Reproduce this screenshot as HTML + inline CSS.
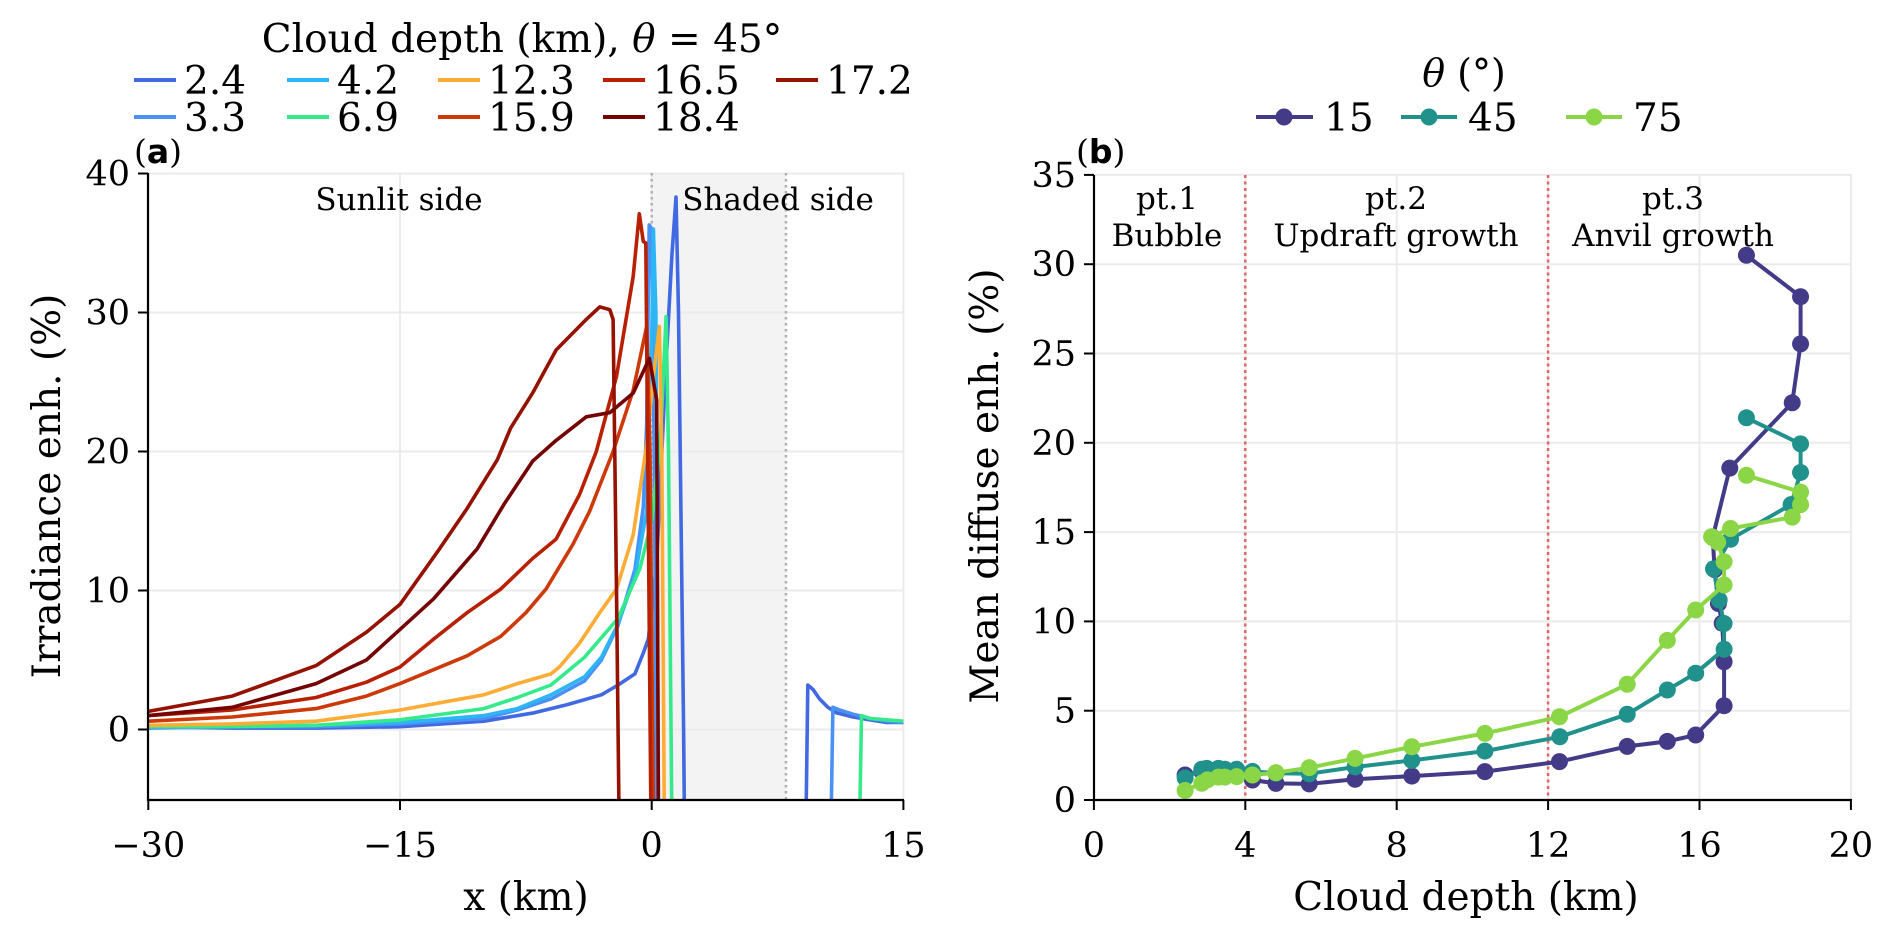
<!DOCTYPE html>
<html><head><meta charset="utf-8"><style>
html,body{margin:0;padding:0;background:#fff;}
svg{display:block;font-family:"DejaVu Serif","Liberation Serif",serif;}
</style></head><body>
<svg id="fig" width="1892" height="938" viewBox="0 0 1892 938" xmlns="http://www.w3.org/2000/svg">
<defs>
<clipPath id="clipA"><rect x="148" y="173" width="756" height="627"/></clipPath>
<clipPath id="clipB"><rect x="1094" y="160" width="770" height="640"/></clipPath>
</defs>
<g id="panelA"></g>
<g id="panelB"></g>
</svg>
<script>
// ---------- Panel (a) data ----------
const depthLabels = ["2.4","3.3","4.2","6.9","12.3","15.9","16.5","17.2","18.4"];
const depthColors = ["#4169e1","#4a90f5","#2db6f5","#35ea8a","#fdac36","#cc3a0a","#b82003","#961200","#740404"];
const x24 = [-30,-25,-20,-15,-10,-7,-5,-3,-2,-1,-0.5,-0.2,0.3,0.8,1.2,1.45,1.6,1.9,1.95,9.2,9.3,9.6,10,10.5,11,12,13,14,15];
const y24 = [0.2,0.1,0.1,0.2,0.6,1.2,1.8,2.5,3.2,4,5.5,6.5,12,25,34,38.3,30,0,-6,-6,3.2,2.9,2.2,1.6,1.2,0.9,0.7,0.5,0.5];
const x33 = [-30,-25,-20,-15,-10,-8,-6,-4,-3,-2,-1,-0.5,-0.3,-0.15,0,0.15,0.3,10.7,10.8,11.2,12,13,14,15];
const y33 = [0.1,0.2,0.2,0.4,0.8,1.4,2.2,3.5,5,7.5,11.5,16,22,36.3,36,20,-6,-6,1.6,1.4,1.1,0.8,0.6,0.5];
const x42 = [-30,-25,-20,-15,-10,-8,-6,-4,-3,-2,-1,-0.3,0,0.1,0.25,0.4];
const y42 = [0.2,0.2,0.3,0.5,1,1.5,2.5,3.8,5.2,7.6,11,15.7,28,36,30,-6];
const x69 = [-30,-25,-20,-15,-10,-8,-6,-4,-2,-0.7,0,0.5,0.86,1.0,1.2,12.4,12.5,13,14,15];
const y69 = [0.2,0.2,0.3,0.7,1.5,2.3,3.2,5.2,8,11.6,15,20.5,29.7,20,-6,-6,1.0,0.8,0.7,0.6];
const x123 = [-30,-25,-20,-15,-10,-8,-6,-5.5,-4.3,-3.1,-2.1,-1.1,-0.3,0.1,0.46,0.6,0.75];
const y123 = [0.3,0.4,0.6,1.4,2.5,3.3,4,4.5,6.2,8.4,10.1,14,20.5,25.4,29,20,-6];
const x159 = [-30,-25,-20,-17,-15,-13,-11,-9,-7.5,-6.3,-4.7,-3.7,-2.3,-1.1,-0.3,-0.1,0.1];
const y159 = [0.6,0.9,1.5,2.4,3.3,4.3,5.3,6.7,8.4,10.1,13.3,15.7,20,24.4,29,20,-6];
const x165 = [-30,-25,-20,-17,-15,-13,-11,-9,-7.1,-5.7,-4.3,-3.3,-2.1,-1.1,-0.74,-0.5,-0.35,-0.2,-0.05];
const y165 = [1.0,1.4,2.3,3.4,4.5,6.5,8.4,10.1,12.3,13.7,16.9,20,25.4,32.6,37.1,35.1,35,15,-6];
const x172 = [-30,-25,-20,-17,-15,-12.7,-11,-9.2,-8.4,-7.1,-5.7,-3.9,-3.1,-2.5,-2.3,-2.1,-1.95];
const y172 = [1.3,2.4,4.6,7.0,9,12.9,15.9,19.4,21.7,24.2,27.3,29.5,30.4,30.2,29.5,10,-6];
const x184 = [-30,-25,-20,-17,-15,-13,-10.4,-8.8,-7.1,-5.7,-3.9,-2.5,-1.1,-0.14,0.3,0.4];
const y184 = [1.0,1.6,3.3,5,7.2,9.4,13,16.2,19.3,20.8,22.5,22.8,24.2,26.7,23.7,-6];
const xTicksA = [-30,-15,0,15];
const yTicksA = [0,10,20,30,40];

// ---------- Panel (b) data ----------
const thetaLabels = ["15","45","75"];
const thetaColors = ["#433a88","#21918c","#8bd646"];
const d15 = [2.41,2.85,2.98,3.29,3.46,3.77,4.19,4.81,5.69,6.9,8.4,10.33,12.3,14.09,15.15,15.9,16.65,16.65,16.6,16.5,16.4,16.35,16.8,18.45,18.67,18.67,17.24];
const e15 = [1.40,1.6,1.62,1.6,1.55,1.5,1.12,0.93,0.9,1.16,1.34,1.59,2.15,3.0,3.28,3.64,5.28,7.74,9.9,11.0,12.9,14.7,18.58,22.24,25.54,28.18,30.5];
const d45 = [2.41,2.85,2.98,3.29,3.46,3.77,4.19,4.81,5.69,6.9,8.4,10.33,12.31,14.09,15.15,15.9,16.65,16.65,16.52,16.37,16.82,18.42,18.67,18.67,17.24];
const e45 = [1.24,1.72,1.77,1.77,1.72,1.72,1.6,1.5,1.47,1.85,2.22,2.74,3.54,4.8,6.16,7.1,8.44,9.88,11.2,12.94,14.6,16.54,18.34,19.94,21.4];
const d75 = [2.41,2.85,3.0,3.29,3.46,3.77,4.19,4.81,5.69,6.9,8.4,10.33,12.3,14.09,15.15,15.9,16.65,16.65,16.48,16.32,16.82,18.45,18.67,18.67,17.24];
const e75 = [0.53,0.94,1.13,1.28,1.28,1.31,1.4,1.53,1.81,2.33,2.98,3.73,4.66,6.48,8.94,10.64,12.04,13.34,14.44,14.74,15.2,15.84,16.54,17.24,18.18];
const xTicksB = [0,4,8,12,16,20];
const yTicksB = [0,5,10,15,20,25,30,35];
const phaseBounds = [4,12];

const NS = "http://www.w3.org/2000/svg";
function mk(parent, tag, attrs, text){
  const el = document.createElementNS(NS, tag);
  for (const k in attrs) el.setAttribute(k, attrs[k]);
  if (text !== undefined) el.textContent = text;
  parent.appendChild(el);
  return el;
}
const xA = v => 651.7 + v*16.78;
const yA = v => 729.5 - v*13.9;
const xB = v => 1093.9 + v*37.85;
const yB = v => 800 - v*17.86;

const svg = document.getElementById('fig');
const gA = document.getElementById('panelA');
const gB = document.getElementById('panelB');

// ===== Panel A =====
let sh = mk(gA,'rect',{x:xA(0),y:173,width:xA(8)-xA(0),height:627,fill:'#f3f3f3'});


xTicksA.forEach(t=>{
  const l = mk(gA,'line',{x1:xA(t),x2:xA(t),y1:173,y2:800,stroke:'#ebebeb','stroke-width':2});
  
  
});
yTicksA.forEach(t=>{
  const l = mk(gA,'line',{x1:148,x2:904,y1:yA(t),y2:yA(t),stroke:'#ebebeb','stroke-width':2});
  
  
});
[0,8].forEach(v=>{
  const l = mk(gA,'line',{x1:xA(v),x2:xA(v),y1:173,y2:800,stroke:'#b0b0b0','stroke-width':2.5,'stroke-dasharray':'2.5,3.5'});
  
  
});
const seriesA = [[x24,y24],[x33,y33],[x42,y42],[x69,y69],[x123,y123],[x159,y159],[x165,y165],[x172,y172],[x184,y184]];
const linesA = mk(gA,'g',{'clip-path':'url(#clipA)'});
seriesA.forEach((s,i)=>{
  const pts = s[0].map((x,j)=>xA(x).toFixed(1)+','+yA(s[1][j]).toFixed(1)).join(' ');
  const p = mk(linesA,'polyline',{points:pts,fill:'none',stroke:depthColors[i],'stroke-width':3.6,'stroke-linejoin':'round'});
  
  
});
let ax = mk(gA,'line',{x1:148,x2:148,y1:173,y2:801,stroke:'#000','stroke-width':2.2});
 
ax = mk(gA,'line',{x1:147,x2:904,y1:800,y2:800,stroke:'#000','stroke-width':2.2});
 
xTicksA.forEach(t=>{
  mk(gA,'line',{x1:xA(t),x2:xA(t),y1:800,y2:810,stroke:'#000','stroke-width':2});
  const tx = mk(gA,'text',{x:xA(t),y:857,'font-size':35,'text-anchor':'middle'}, t<0?'\u2212'+(-t):String(t));
  
  
});
yTicksA.forEach(t=>{
  mk(gA,'line',{x1:138,x2:148,y1:yA(t),y2:yA(t),stroke:'#000','stroke-width':2});
  const tx = mk(gA,'text',{x:130,y:yA(t)+12,'font-size':35,'text-anchor':'end'}, String(t));
  
  
});
// ===== Panel B =====
xTicksB.forEach(t=>{
  const l = mk(gB,'line',{x1:xB(t),x2:xB(t),y1:175,y2:800,stroke:'#ebebeb','stroke-width':2});
  
  
});
yTicksB.forEach(t=>{
  const l = mk(gB,'line',{x1:1094,x2:1852,y1:yB(t),y2:yB(t),stroke:'#ebebeb','stroke-width':2});
  
  
});
phaseBounds.forEach(v=>{
  const l = mk(gB,'line',{x1:xB(v),x2:xB(v),y1:175,y2:800,stroke:'#e06666','stroke-width':2.5,'stroke-dasharray':'3,3.5'});
  
  
});
const seriesB = [[d15,e15],[d45,e45],[d75,e75]];
const marksB = mk(gB,'g',{'clip-path':'url(#clipB)'});
seriesB.forEach((s,i)=>{
  const g = mk(marksB,'g',{});
  
  
  const pts = s[0].map((x,j)=>xB(x).toFixed(1)+','+yB(s[1][j]).toFixed(1)).join(' ');
  mk(g,'polyline',{points:pts,fill:'none',stroke:thetaColors[i],'stroke-width':4,'stroke-linejoin':'round'});
  s[0].forEach((x,j)=>{
    const c = mk(g,'circle',{cx:xB(x),cy:yB(s[1][j]),r:8.5,fill:thetaColors[i]});
    
    
  });
});
ax = mk(gB,'line',{x1:1094,x2:1094,y1:175,y2:801,stroke:'#000','stroke-width':2.2});
 
ax = mk(gB,'line',{x1:1093,x2:1852,y1:800,y2:800,stroke:'#000','stroke-width':2.2});
 
xTicksB.forEach(t=>{
  mk(gB,'line',{x1:xB(t),x2:xB(t),y1:800,y2:810,stroke:'#000','stroke-width':2});
  const tx = mk(gB,'text',{x:xB(t),y:857,'font-size':35,'text-anchor':'middle'}, String(t));
  
  
});
yTicksB.forEach(t=>{
  mk(gB,'line',{x1:1084,x2:1094,y1:yB(t),y2:yB(t),stroke:'#000','stroke-width':2});
  const tx = mk(gB,'text',{x:1076,y:yB(t)+12,'font-size':35,'text-anchor':'end'}, String(t));
  
  
});

// ===== Legend A =====
const legA = mk(svg,'g',{});


const legAcols = [134,287,438,603,776];
const order = {"2.4":[0,0],"3.3":[0,1],"4.2":[1,0],"6.9":[1,1],"12.3":[2,0],"15.9":[2,1],"16.5":[3,0],"18.4":[3,1],"17.2":[4,0]};
depthLabels.forEach((lab,i)=>{
  const c = order[lab][0], r = order[lab][1];
  const ly = r===0 ? 80 : 117;
  const e = mk(legA,'g',{});
  
  
  mk(e,'line',{x1:legAcols[c],x2:legAcols[c]+42,y1:ly,y2:ly,stroke:depthColors[i],'stroke-width':4});
  mk(e,'text',{x:legAcols[c]+50,y:ly+14,'font-size':39}, lab);
});
</script>
<script>
(function(){
  const svg = document.getElementById('fig');
  const NS = "http://www.w3.org/2000/svg";
  const html = `
  <text x="522" y="52" font-size="39" text-anchor="middle">Cloud depth (km), <tspan font-style="italic">θ</tspan> = 45°</text>
  <text x="1464" y="86" font-size="38" text-anchor="middle"><tspan font-style="italic">θ</tspan> (°)</text>
  <g>
    <g><line x1="1256" x2="1313" y1="117" y2="117" stroke="#433a88" stroke-width="4"/><circle cx="1284" cy="117" r="8.5" fill="#433a88"/><text x="1324" y="131" font-size="39">15</text></g>
    <g><line x1="1401" x2="1457" y1="117" y2="117" stroke="#21918c" stroke-width="4"/><circle cx="1429" cy="117" r="8.5" fill="#21918c"/><text x="1468" y="131" font-size="39">45</text></g>
    <g><line x1="1566" x2="1622" y1="117" y2="117" stroke="#8bd646" stroke-width="4"/><circle cx="1594" cy="117" r="8.5" fill="#8bd646"/><text x="1633" y="131" font-size="39">75</text></g>
  </g>
  <text x="134" y="163" font-size="33">(<tspan font-weight="bold" font-family="DejaVu Sans, sans-serif">a</tspan>)</text>
  <text x="1076" y="163" font-size="33">(<tspan font-weight="bold" font-family="DejaVu Sans, sans-serif">b</tspan>)</text>
  <text x="399" y="210" font-size="31" text-anchor="middle">Sunlit side</text>
  <text x="778" y="210" font-size="31" text-anchor="middle">Shaded side</text>
  <text x="1167" y="209" font-size="31" text-anchor="middle">pt.1</text>
  <text x="1167" y="246" font-size="31" text-anchor="middle">Bubble</text>
  <text x="1396" y="209" font-size="31" text-anchor="middle">pt.2</text>
  <text x="1396" y="246" font-size="31" text-anchor="middle">Updraft growth</text>
  <text x="1673" y="209" font-size="31" text-anchor="middle">pt.3</text>
  <text x="1673" y="246" font-size="31" text-anchor="middle">Anvil growth</text>
  <text x="526" y="910" font-size="39" text-anchor="middle">x (km)</text>
  <text x="1466" y="910" font-size="39" text-anchor="middle">Cloud depth (km)</text>
  <text transform="translate(60,486) rotate(-90)" font-size="39" text-anchor="middle">Irradiance enh. (%)</text>
  <text transform="translate(998,486) rotate(-90)" font-size="39" text-anchor="middle">Mean diffuse enh. (%)</text>`;
  const g = document.createElementNS(NS,'g');
  
  
  g.innerHTML = html;
  svg.appendChild(g);
})();
</script>
</body></html>
